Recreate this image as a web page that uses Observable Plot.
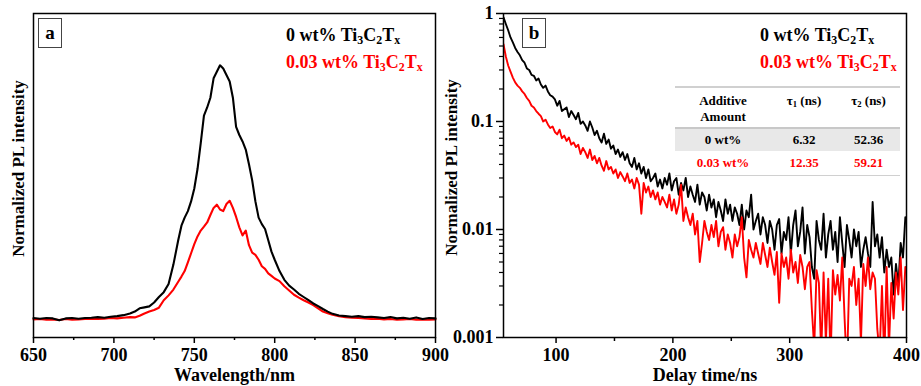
<!DOCTYPE html>
<html><head><meta charset="utf-8">
<script src="https://cdn.jsdelivr.net/npm/d3@7"></script>
<script src="https://cdn.jsdelivr.net/npm/@observablehq/plot@0.6"></script>
<style>
html,body{margin:0;padding:0;background:#fff;}
#chart{position:relative;width:921px;height:386px;font-family:"Liberation Serif","Times New Roman",serif;font-weight:bold;overflow:hidden;}
.panel{position:absolute;top:0;}
.leg{position:absolute;font-size:18px;line-height:18px;white-space:nowrap;}
.s{font-size:0.66em;position:relative;top:0.28em;}
.tag{position:absolute;width:24px;height:30px;box-sizing:border-box;border:1px solid #444;font-size:19px;line-height:27px;text-align:center;background:#fff;}
table.tau{position:absolute;left:675px;top:86px;width:225px;table-layout:fixed;border-collapse:collapse;font-size:13px;line-height:16px;border-top:2px solid #d0d0d0;border-bottom:1.5px solid #d0d0d0;}
table.tau td{padding:0;text-align:center;}
table.tau tr.hd td{padding:5px 0 2px;vertical-align:top;border-bottom:2px solid #c8c8c8;}
table.tau tr.g td{background:#e8e8e8;height:22px;vertical-align:middle;}
table.tau tr.r td{color:#ff0000;height:24px;vertical-align:middle;}
</style>
</head><body>
<div id="chart"></div>
<script>
// ---------- Panel a: steady-state PL ----------
const wavelength = [650,654,658,662,666,670,674,678,682,686,690,694,698,702,706,710,
  713,716,719,722,725,728,731,734,737,740,
  742,744,746,748,750,752,754,756,758,760,762,764,766,768,770,772,774,776,778,780,
  782,784,786,788,790,792,794,796,798,800,
  803,806,809,812,815,818,821,824,827,830,833,836,
  840,844,848,852,856,860,864,868,872,876,880,884,888,892,896,900];
const plBlack = [0.060,0.058,0.060,0.059,0.053,0.059,0.060,0.058,0.060,0.061,0.063,0.061,0.064,0.066,0.069,0.074,
  0.080,0.090,0.093,0.096,0.108,0.125,0.140,0.165,0.225,0.300,
  0.345,0.370,0.390,0.420,0.460,0.520,0.600,0.685,0.710,0.740,0.800,0.820,0.840,0.830,0.810,0.790,0.740,0.650,0.625,0.605,
  0.580,0.535,0.485,0.420,0.370,0.350,0.335,0.300,0.265,0.240,
  0.205,0.178,0.160,0.148,0.135,0.125,0.115,0.105,0.097,0.088,0.080,0.073,
  0.068,0.066,0.064,0.066,0.063,0.064,0.062,0.060,0.063,0.059,0.061,0.058,0.062,0.057,0.060,0.059];
const plRed = [0.056,0.057,0.055,0.056,0.054,0.057,0.055,0.056,0.057,0.058,0.057,0.058,0.060,0.059,0.061,0.063,
  0.062,0.067,0.074,0.080,0.085,0.092,0.115,0.130,0.148,0.172,
  0.188,0.205,0.232,0.260,0.288,0.312,0.330,0.342,0.355,0.378,0.400,0.410,0.395,0.390,0.412,0.422,0.400,0.372,0.340,0.315,
  0.330,0.285,0.262,0.255,0.240,0.220,0.212,0.198,0.190,0.182,
  0.174,0.158,0.145,0.132,0.123,0.115,0.108,0.100,0.090,0.080,0.075,0.070,
  0.066,0.063,0.061,0.060,0.059,0.057,0.058,0.056,0.057,0.055,0.056,0.057,0.055,0.056,0.055,0.056];
const waveMajor = [650,700,750,800,850,900];
const waveMinor = [675,725,775,825,875];

// ---------- Panel b: time-resolved PL ----------
const delay = [55,57,59,61,63,65,67,69,71,73,
  75,77,79,81,83,85,87,89,91,93,
  95,97,99,101,103,105,107,109,111,113,
  115,117,119,121,123,125,127,129,131,133,
  135,137,139,141,143,145,147,149,151,153,
  155,157,159,161,163,165,167,169,171,173,
  175,177,179,181,183,185,187,189,191,193,
  195,197,199,201,203,205,207,209,211,213,
  215,217,219,221,223,225,227,229,231,233,
  235,237,239,241,243,245,247,249,251,253,
  255,257,259,261,263,265,267,269,271,273,
  275,277,279,281,283,285,287,289,291,293,
  295,297,299,301,303,305,307,309,311,313,
  315,317,319,321,323,325,327,329,331,333,
  335,337,339,341,343,345,347,349,351,353,
  355,357,359,361,363,365,367,369,371,373,
  375,377,379,381,383,385,387,389,391,393,
  395,397,399];
const decayBlack = [0.92,0.80,0.70,0.60,0.54,0.48,0.44,0.41,0.37,0.35,
  0.31,0.30,0.27,0.265,0.24,0.25,0.22,0.205,0.215,0.19,
  0.175,0.17,0.16,0.14,0.155,0.125,0.13,0.135,0.11,0.125,
  0.115,0.105,0.12,0.095,0.1,0.092,0.082,0.1,0.088,0.075,
  0.082,0.07,0.064,0.077,0.062,0.068,0.056,0.06,0.05,0.055,
  0.047,0.052,0.044,0.05,0.041,0.038,0.046,0.036,0.041,0.033,
  0.038,0.03,0.036,0.028,0.03,0.033,0.025,0.029,0.024,0.03,
  0.026,0.033,0.023,0.028,0.03,0.021,0.027,0.023,0.03,0.02,
  0.025,0.021,0.018,0.026,0.017,0.022,0.02,0.015,0.021,0.016,
  0.019,0.013,0.018,0.015,0.012,0.019,0.014,0.017,0.012,0.016,
  0.014,0.011,0.017,0.01,0.015,0.013,0.021,0.01,0.012,0.014,
  0.009,0.013,0.011,0.0075,0.012,0.01,0.0065,0.011,0.0125,0.006,
  0.0095,0.008,0.013,0.006,0.011,0.015,0.007,0.0095,0.016,0.006,
  0.011,0.0085,0.0045,0.0035,0.012,0.008,0.0065,0.014,0.0055,0.009,
  0.012,0.0065,0.0095,0.005,0.013,0.0075,0.0045,0.011,0.008,0.0055,
  0.01,0.007,0.0095,0.0045,0.0065,0.0085,0.006,0.0045,0.018,0.007,
  0.009,0.0055,0.0085,0.004,0.0065,0.0045,0.0055,0.0025,0.0048,0.003,
  0.0075,0.0055,0.013];
const decayRed = [0.52,0.40,0.33,0.29,0.255,0.23,0.215,0.205,0.19,0.18,
  0.165,0.155,0.14,0.135,0.125,0.118,0.112,0.1,0.104,0.094,
  0.087,0.09,0.08,0.076,0.084,0.07,0.074,0.066,0.071,0.061,
  0.064,0.058,0.061,0.05,0.057,0.052,0.046,0.055,0.044,0.048,
  0.041,0.046,0.039,0.035,0.043,0.036,0.038,0.033,0.036,0.03,
  0.034,0.031,0.028,0.033,0.027,0.029,0.024,0.03,0.026,0.014,
  0.027,0.022,0.025,0.02,0.023,0.019,0.022,0.017,0.02,0.018,
  0.016,0.021,0.015,0.019,0.014,0.017,0.026,0.012,0.016,0.013,
  0.011,0.014,0.009,0.012,0.005,0.0075,0.012,0.0095,0.008,0.011,
  0.0085,0.012,0.007,0.0095,0.0105,0.0065,0.009,0.0075,0.0055,0.009,
  0.007,0.0085,0.013,0.0055,0.0036,0.008,0.0065,0.0055,0.0075,0.006,
  0.0048,0.0075,0.0058,0.0045,0.0068,0.005,0.0038,0.0062,0.0021,0.006,
  0.0045,0.0055,0.0035,0.0065,0.004,0.005,0.0032,0.0058,0.0045,0.0028,
  0.0045,0.005,0.0018,0.0008,0.0042,0.0032,0.0007,0.004,0.0009,0.0035,
  0.0006,0.0042,0.0025,0.0038,0.0022,0.0055,0.0015,0.0005,0.0035,0.003,
  0.0045,0.002,0.0035,0.0009,0.0048,0.003,0.0055,0.0028,0.004,0.0035,
  0.0012,0.0007,0.003,0.0006,0.0045,0.0008,0.0032,0.0015,0.004,0.0025,
  0.0055,0.0018,0.0045];
const delayMajor = [100,200,300,400];
const delayMinor = [150,250,350];
const decadeTicks = [1,0.1,0.01,0.001];
const logMinorTicks = [0.002,0.003,0.004,0.005,0.006,0.007,0.008,0.009,
  0.02,0.03,0.04,0.05,0.06,0.07,0.08,0.09,
  0.2,0.3,0.4,0.5,0.6,0.7,0.8,0.9];

// ---------- Labels ----------
const yTitle = "Normalized PL intensity";
const xTitleA = "Wavelength/nm";
const xTitleB = "Delay time/ns";

const style = {fontFamily: "'Liberation Serif', 'Times New Roman', serif", fontSize: "18px", fontWeight: "bold", color: "black", background: "none", overflow: "visible"};

const pa = wavelength.map((w, i) => ({w, black: plBlack[i], red: plRed[i]}));
const pb = delay.map((t, i) => ({t, black: decayBlack[i], red: decayRed[i]}));

const plotA = Plot.plot({
  width: 460, height: 386,
  marginLeft: 33, marginRight: 25, marginTop: 13, marginBottom: 49,
  style,
  x: {domain: [650, 900]},
  y: {domain: [0, 1]},
  marks: [
    Plot.axisX({ticks: waveMajor, tickSize: 6, tickPadding: 5, strokeWidth: 1.5, label: null, tickFormat: d => String(d)}),
    Plot.axisX({ticks: waveMinor, tickSize: 3, strokeWidth: 1.5, label: null, tickFormat: () => ""}),
    Plot.axisY({ticks: [], label: null}),
    Plot.line(pa, {x: "w", y: "red", stroke: "#ff0000", strokeWidth: 2.1}),
    Plot.line(pa, {x: "w", y: "black", stroke: "#000", strokeWidth: 2.1}),
    Plot.frame({stroke: "#000", strokeWidth: 1.5}),
    Plot.text([xTitleA], {frameAnchor: "bottom", lineAnchor: "middle", dy: 38, fontSize: 18, fontWeight: "bold"}),
    Plot.text([yTitle], {frameAnchor: "left", rotate: -90, textAnchor: "middle", lineAnchor: "middle", dx: -15, dy: -7, fontSize: 17, fontWeight: "bold"})
  ]
});

const plotB = Plot.plot({
  width: 491, height: 386,
  marginLeft: 73, marginRight: 15, marginTop: 13, marginBottom: 49,
  style,
  x: {domain: [55, 400]},
  y: {type: "log", domain: [0.001, 1]},
  marks: [
    Plot.axisX({ticks: delayMajor, tickSize: 6, tickPadding: 5, strokeWidth: 1.5, label: null, tickFormat: d => String(d)}),
    Plot.axisX({ticks: delayMinor, tickSize: 4, strokeWidth: 1.5, label: null, tickFormat: () => ""}),
    Plot.axisY({ticks: decadeTicks, tickSize: 7, tickPadding: 3, strokeWidth: 1.5, label: null, tickFormat: d => String(d)}),
    Plot.axisY({ticks: logMinorTicks, tickSize: 4, strokeWidth: 1.2, label: null, tickFormat: () => ""}),
    Plot.line(pb, {x: "t", y: "black", stroke: "#000", strokeWidth: 1.9, clip: true}),
    Plot.line(pb, {x: "t", y: "red", stroke: "#ff0000", strokeWidth: 1.9, clip: true}),
    Plot.frame({stroke: "#000", strokeWidth: 1.5}),
    Plot.text([xTitleB], {frameAnchor: "bottom", lineAnchor: "middle", dy: 38, fontSize: 18, fontWeight: "bold"}),
    Plot.text([yTitle], {frameAnchor: "left", rotate: -90, textAnchor: "middle", lineAnchor: "middle", dx: -52, dy: -8, fontSize: 17, fontWeight: "bold"})
  ]
});

const chart = document.getElementById("chart");
plotA.classList.add("panel"); plotA.style.left = "0px";
plotB.classList.add("panel"); plotB.style.left = "430px";
chart.appendChild(plotA);
chart.appendChild(plotB);

const seriesNames = [
  {pre: "0 wt% ", color: "#000"},
  {pre: "0.03 wt% ", color: "#ff0000"}
];
const legendX = [286, 760];
const legendTop = [26, 53];
legendX.forEach(x => {
  seriesNames.forEach((s, i) => {
    const d = document.createElement("div");
    d.className = "leg";
    d.style.left = x + "px";
    d.style.top = legendTop[i] + "px";
    d.style.color = s.color;
    d.innerHTML = s.pre + 'Ti<span class="s">3</span>C<span class="s">2</span>T<span class="s">x</span>';
    chart.appendChild(d);
  });
});

const tags = [{t: "a", x: 38}, {t: "b", x: 522}];
tags.forEach(g => {
  const d = document.createElement("div");
  d.className = "tag";
  d.style.left = g.x + "px";
  d.style.top = "18px";
  d.textContent = g.t;
  chart.appendChild(d);
});

const tableRows = [
  ["0 wt%", "6.32", "52.36"],
  ["0.03 wt%", "12.35", "59.21"]
];
const tbl = document.createElement("table");
tbl.className = "tau";
tbl.innerHTML =
  '<colgroup><col style="width:96px"><col style="width:66px"><col style="width:63px"></colgroup>' +
  '<tr class="hd"><td>Additive<br>Amount</td><td>τ<span class="s">1</span> (ns)</td><td>τ<span class="s">2</span> (ns)</td></tr>' +
  '<tr class="g"><td>' + tableRows[0].join('</td><td>') + '</td></tr>' +
  '<tr class="r"><td>' + tableRows[1].join('</td><td>') + '</td></tr>';
chart.appendChild(tbl);
</script>
</body></html>
